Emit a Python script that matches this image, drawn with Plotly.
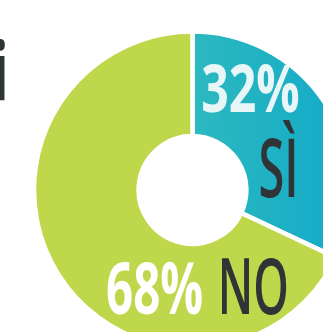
import plotly.graph_objects as go

# Data
categories = ["SÌ", "NO"]
values = [32, 68]
pct_labels = ["32%", "68%"]
colors = ["#1fb2c4", "#bfd84b"]
teal_gradient = ["#2cb9bf", "#12aac9"]

W, H = 400, 400
cx, cy, r = 192.5, 190, 158.5

def px(x):
    return x / W

def py(y):
    return 1 - y / H

fig = go.Figure()
fig.add_trace(go.Pie(
    labels=categories, values=values, hole=0.34, sort=False,
    direction="clockwise", rotation=0,
    marker=dict(colors=colors, line=dict(color="white", width=4.5)),
    textinfo="none", hoverinfo="label+percent", showlegend=False,
    domain=dict(x=[px(cx - r), px(cx + r)], y=[py(cy + r), py(cy - r)]),
))

font_fam = "Open Sans, DejaVu Sans, sans-serif"
# text, x-center, y-center, size, color, horizontal squeeze, weight
anns = [
    (pct_labels[0], 250, 86, 66, "#e8f6f8", 0.73, 700),
    (categories[0], 278, 165, 81, "#2f3436", 0.58, 600),
    (pct_labels[1], 154, 286, 71, "#ffffff", 0.67, 700),
    (categories[1], 253, 284, 78, "#2f3436", 0.58, 600),
    ("i", 0, 68, 80, "#2f3436", 0.7, 700),
]
squeeze = []
for t, x, y, s, c, k, w in anns:
    fig.add_annotation(text=t, x=px(x), y=py(y), xref="paper", yref="paper",
                       xanchor="center", yanchor="middle", showarrow=False,
                       font=dict(family=font_fam, size=s, color=c, weight=w))
    squeeze.append(k)

fig.update_layout(width=W, height=H, margin=dict(l=0, r=0, t=0, b=0),
                  paper_bgcolor="white", plot_bgcolor="white")

post = """
document.body.style.overflow='hidden';
document.documentElement.style.overflow='hidden';
document.body.style.margin='0';
var gd = document.getElementById('{plot_id}');
var ks = %s;
gd.querySelectorAll('.annotation-text').forEach(function(t, i) {
  t.style.transformBox = 'fill-box';
  t.style.transformOrigin = 'center';
  t.style.transform = 'scaleX(' + ks[i] + ')';
});
var svg = gd.querySelector('svg.main-svg');
var ns = 'http://www.w3.org/2000/svg';
var defs = svg.querySelector('defs') || svg.insertBefore(document.createElementNS(ns, 'defs'), svg.firstChild);
var lg = document.createElementNS(ns, 'linearGradient');
lg.setAttribute('id', 'tealgrad');
lg.setAttribute('x1', '0'); lg.setAttribute('x2', '1'); lg.setAttribute('y1', '0'); lg.setAttribute('y2', '0');
['%s', '%s'].forEach(function(c, i) {
  var st = document.createElementNS(ns, 'stop');
  st.setAttribute('offset', i ? '1' : '0');
  st.setAttribute('stop-color', c);
  lg.appendChild(st);
});
defs.appendChild(lg);
var slice = gd.querySelector('.slice path.surface');
if (slice) { slice.style.fill = 'url(#tealgrad)'; }
""" % (str(squeeze), teal_gradient[0], teal_gradient[1])

fig.write_html("out.html", post_script=post)
